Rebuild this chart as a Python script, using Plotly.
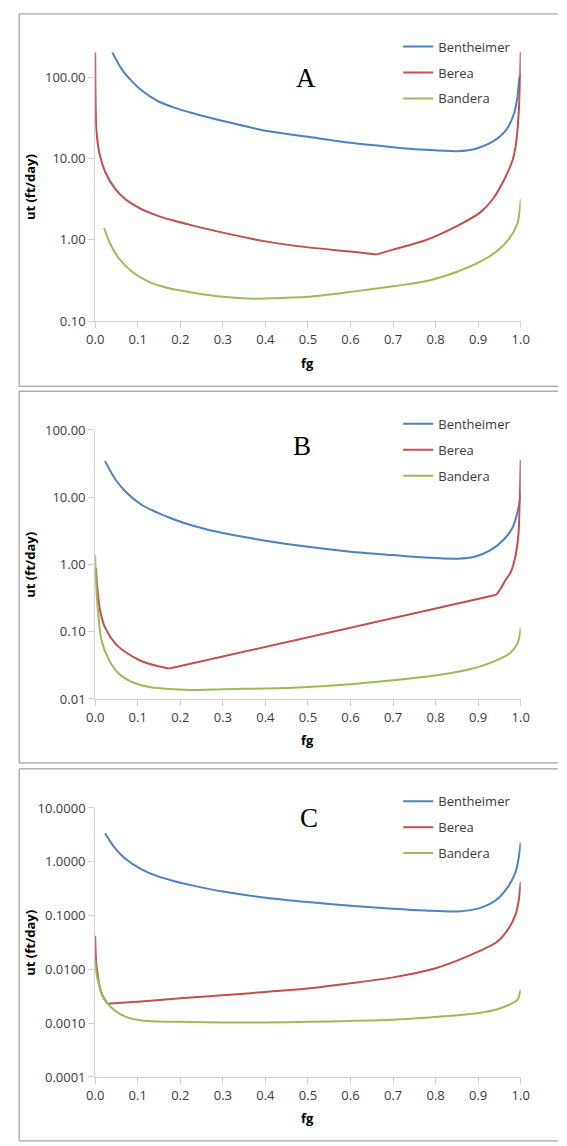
import math
import plotly.graph_objects as go

# ---------------- data ----------------
series_names = ["Bentheimer", "Berea", "Bandera"]
series_colors = ["#4F81BD", "#C0504D", "#9BBB59"]
panel_letters = ["A", "B", "C"]

x_ticks = [0.0, 0.1, 0.2, 0.3, 0.4, 0.5, 0.6, 0.7, 0.8, 0.9, 1.0]
x_ticktext = ["0.0", "0.1", "0.2", "0.3", "0.4", "0.5", "0.6", "0.7", "0.8", "0.9", "1.0"]

y_ticks_a = [0.1, 1, 10, 100]
y_ticktext_a = ["0.10", "1.00", "10.00", "100.00"]
y_ticks_b = [0.01, 0.1, 1, 10, 100]
y_ticktext_b = ["0.01", "0.10", "1.00", "10.00", "100.00"]
y_ticks_c = [0.0001, 0.001, 0.01, 0.1, 1, 10]
y_ticktext_c = ["0.0001", "0.0010", "0.0100", "0.1000", "1.0000", "10.0000"]

# Panel A
fg_bentheimer_a = [0.040, 0.063, 0.086, 0.108, 0.146, 0.184, 0.23, 0.3, 0.4, 0.5, 0.6, 0.7,
                   0.776, 0.852, 0.897, 0.934, 0.965, 0.984, 0.992, 0.997, 1.0]
ut_bentheimer_a = [202, 124, 89.5, 69.7, 51.3, 42.5, 36, 29, 22, 18.5, 15.6, 13.8,
                   12.8, 12.3, 13.3, 16.1, 22.2, 35.3, 56, 98, 110]
fg_berea_a = [0.0, 0.0005, 0.001, 0.003, 0.01, 0.025, 0.048, 0.071, 0.108, 0.146, 0.184, 0.23,
              0.3, 0.4, 0.5, 0.6, 0.662, 0.7, 0.776, 0.852, 0.905, 0.934, 0.961, 0.981,
              0.988, 0.994, 0.998, 1.0]
ut_berea_a = [202, 80, 46.6, 22, 11.6, 6.6, 4.17, 3.16, 2.4, 1.99, 1.73, 1.5,
              1.23, 0.96, 0.81, 0.72, 0.664, 0.76, 0.99, 1.5, 2.18, 3.16, 5.5, 9.6,
              14, 29, 74, 202]
fg_bandera_a = [0.021, 0.033, 0.055, 0.086, 0.124, 0.169, 0.23, 0.3, 0.37, 0.45, 0.5, 0.6,
                0.7, 0.776, 0.852, 0.905, 0.943, 0.973, 0.992, 0.998, 1.0]
ut_bandera_a = [1.4, 0.95, 0.6, 0.41, 0.31, 0.258, 0.225, 0.2, 0.19, 0.195, 0.2, 0.23,
                0.27, 0.31, 0.41, 0.54, 0.72, 1.04, 1.58, 2.4, 3.16]

# Panel B
fg_bentheimer_b = [0.023, 0.048, 0.071, 0.108, 0.146, 0.184, 0.23, 0.3, 0.4, 0.5, 0.6, 0.7,
                   0.776, 0.852, 0.89, 0.928, 0.958, 0.981, 0.992, 0.998, 1.0]
ut_bentheimer_b = [34.4, 18.2, 12.2, 7.8, 5.9, 4.7, 3.76, 2.93, 2.26, 1.83, 1.55, 1.38,
                   1.27, 1.22, 1.29, 1.62, 2.27, 3.55, 5.9, 9.2, 11]
fg_berea_b = [0.002, 0.005, 0.012, 0.023, 0.048, 0.071, 0.108, 0.146, 0.1745,
              0.943, 0.954, 0.962, 0.977, 0.988, 0.995, 0.998, 1.0]
ut_berea_b = [0.88, 0.45, 0.2, 0.116, 0.066, 0.05, 0.0367, 0.031, 0.0284,
              0.356, 0.446, 0.556, 0.78, 1.37, 3.0, 9.2, 35.7]
fg_bandera_b = [0.0, 0.002, 0.006, 0.015, 0.033, 0.055, 0.086, 0.131, 0.184, 0.23, 0.3, 0.4,
                0.5, 0.6, 0.7, 0.776, 0.852, 0.901, 0.943, 0.973, 0.992, 0.998, 1.0]
ut_bandera_b = [1.37, 0.556, 0.226, 0.074, 0.0375, 0.024, 0.018, 0.0149, 0.014, 0.0136, 0.014, 0.0143,
                0.0151, 0.0166, 0.019, 0.0214, 0.0254, 0.03, 0.0375, 0.047, 0.066, 0.092, 0.116]

# Panel C
fg_bentheimer_c = [0.023, 0.048, 0.071, 0.108, 0.146, 0.184, 0.23, 0.3, 0.4, 0.5, 0.6, 0.7,
                   0.776, 0.852, 0.905, 0.943, 0.973, 0.988, 0.995, 1.0]
ut_bentheimer_c = [3.4, 1.73, 1.14, 0.73, 0.54, 0.44, 0.36, 0.28, 0.215, 0.178, 0.152, 0.134,
                   0.124, 0.119, 0.139, 0.197, 0.37, 0.65, 1.14, 2.29]
fg_berea_c = [0.0, 0.002, 0.006, 0.01, 0.017, 0.029, 0.1, 0.2, 0.3, 0.4, 0.5, 0.6, 0.7,
              0.8, 0.852, 0.905, 0.943, 0.973, 0.988, 0.995, 1.0]
ut_berea_c = [0.042, 0.0147, 0.0079, 0.0050, 0.0033, 0.0023, 0.0025, 0.0029, 0.0033, 0.0038, 0.0044,
              0.0055, 0.0071, 0.0105, 0.0147, 0.0223, 0.0318, 0.06, 0.105, 0.183, 0.425]
fg_bandera_c = [0.0, 0.003, 0.006, 0.01, 0.017, 0.029, 0.048, 0.071, 0.108, 0.146, 0.2, 0.3,
                0.4, 0.5, 0.6, 0.7, 0.776, 0.852, 0.905, 0.943, 0.973, 0.992, 1.0]
ut_bandera_c = [0.0147, 0.0085, 0.0065, 0.0048, 0.0032, 0.0023, 0.00167, 0.00132, 0.00112, 0.00107,
                0.00106, 0.00103, 0.00103, 0.00106, 0.0011, 0.00116, 0.00126, 0.00141, 0.00156,
                0.00179, 0.0022, 0.0027, 0.0042]

# ---------------- layout geometry (pixels) ----------------
W, H = 567, 1146
plot_left, plot_right = 89, 528.5
# (top px, bottom px, log10 min, log10 max) for each panel
panels = [
    (44.0, 317.3, -1, math.log10(202)),
    (427.7, 701.0, -2, 2),
    (811.7, 1085.0, -4, 1),
]
frames = [(5, 383.3), (388.3, 766), (772, 1150)]
legend_rows_top = [45, 428.3, 811.7]
letter_pos = [(307, 70), (303, 444), (310, 822)]

panel_data = [
    [(fg_bentheimer_a, ut_bentheimer_a), (fg_berea_a, ut_berea_a), (fg_bandera_a, ut_bandera_a)],
    [(fg_bentheimer_b, ut_bentheimer_b), (fg_berea_b, ut_berea_b), (fg_bandera_b, ut_bandera_b)],
    [(fg_bentheimer_c, ut_bentheimer_c), (fg_berea_c, ut_berea_c), (fg_bandera_c, ut_bandera_c)],
]
# sharp corners in the Berea curves: (segment start, segment end, smooth?)
segment_plan = {
    (0, 1): [(0, 16, True), (16, None, True)],
    (1, 1): [(0, 8, True), (8, 9, False), (9, None, True)],
    (2, 1): [(0, 5, True), (5, None, True)],
}
y_tick_sets = [(y_ticks_a, y_ticktext_a), (y_ticks_b, y_ticktext_b), (y_ticks_c, y_ticktext_c)]


def px_x(p):
    return p / W


def px_y(p):
    return 1 - p / H


FONT = "Open Sans, Liberation Sans, Arial, sans-serif"
AXIS_COLOR = "#D0D0D0"
TEXT_COLOR = "#3a3a3a"
FRAME_COLOR = "#8C8C8C"

fig = go.Figure()
layout = dict(
    width=W, height=H, autosize=False,
    margin=dict(l=0, r=0, t=0, b=0),
    paper_bgcolor="white", plot_bgcolor="white",
    font=dict(family=FONT, size=13, color=TEXT_COLOR),
    shapes=[], annotations=[],
)

for i, (top, bottom, lmin, lmax) in enumerate(panels):
    sfx = "" if i == 0 else str(i + 1)
    legend_key = "legend" + sfx
    for j, name in enumerate(series_names):
        xs, ys = panel_data[i][j]
        plan = segment_plan.get((i, j), [(0, None, True)])
        for k, (s, e, smooth) in enumerate(plan):
            stop = None if e is None else e + 1
            fig.add_trace(go.Scatter(
                x=xs[s:stop], y=ys[s:stop], mode="lines", name=name,
                line=dict(color=series_colors[j], width=2,
                          shape="spline" if smooth else "linear", smoothing=0.8),
                xaxis="x" + sfx, yaxis="y" + sfx,
                legend=legend_key, legendgroup=f"{i}-{j}", showlegend=(k == 0),
                hoverinfo="skip",
            ))
    tv, tt = y_tick_sets[i]
    layout["xaxis" + sfx] = dict(
        domain=[px_x(plot_left), px_x(plot_right)], range=[0, 1],
        anchor="y" + sfx, tickvals=x_ticks, ticktext=x_ticktext,
        showline=True, linecolor=AXIS_COLOR, linewidth=1,
        ticks="outside", ticklen=6, tickcolor=AXIS_COLOR,
        showgrid=False, zeroline=False,
        tickfont=dict(size=13, color=TEXT_COLOR), fixedrange=True,
    )
    layout["yaxis" + sfx] = dict(
        domain=[px_y(bottom), px_y(top)], range=[lmin, lmax], type="log",
        anchor="x" + sfx, tickvals=tv, ticktext=tt,
        showline=True, linecolor=AXIS_COLOR, linewidth=1,
        ticks="outside", ticklen=6, tickcolor=AXIS_COLOR,
        showgrid=False, zeroline=False,
        tickfont=dict(size=13, color=TEXT_COLOR), fixedrange=True,
    )
    layout[legend_key] = dict(
        x=px_x(402), y=px_y(legend_rows_top[i] - 22), xanchor="left", yanchor="top",
        bgcolor="rgba(0,0,0,0)", borderwidth=0,
        font=dict(size=13, color=TEXT_COLOR, family=FONT),
        traceorder="grouped", tracegroupgap=6, itemwidth=30,
    )
    # panel frame: left, top and bottom edges (the right edge runs off the page)
    ft, fb = frames[i]
    for (x0, y0, x1, y1) in [(10.5, ft, 10.5, fb), (10.5, ft, W, ft), (10.5, fb, W, fb)]:
        layout["shapes"].append(dict(
            type="line", xref="paper", yref="paper",
            x0=px_x(x0), x1=px_x(x1), y0=px_y(y0), y1=px_y(y1),
            line=dict(color=FRAME_COLOR, width=1), layer="below",
        ))
    # panel letter
    lx, ly = letter_pos[i]
    layout["annotations"].append(dict(
        text=panel_letters[i], xref="paper", yref="paper",
        x=px_x(lx), y=px_y(ly), xanchor="center", yanchor="middle", showarrow=False,
        font=dict(family="Liberation Serif, Times New Roman, serif", size=27, color="black"),
    ))
    # axis titles
    layout["annotations"].append(dict(
        text="<b>ut (ft/day)</b>", xref="paper", yref="paper",
        x=px_x(22), y=px_y((top + bottom) / 2), xanchor="center", yanchor="middle",
        textangle=-90, showarrow=False, font=dict(size=13, color="black"),
    ))
    layout["annotations"].append(dict(
        text="<b>fg</b>", xref="paper", yref="paper",
        x=px_x((plot_left + plot_right) / 2), y=px_y(bottom + 42), xanchor="center",
        yanchor="middle", showarrow=False, font=dict(size=13, color="black"),
    ))

fig.update_layout(**layout)
fig.write_html("out.html")
